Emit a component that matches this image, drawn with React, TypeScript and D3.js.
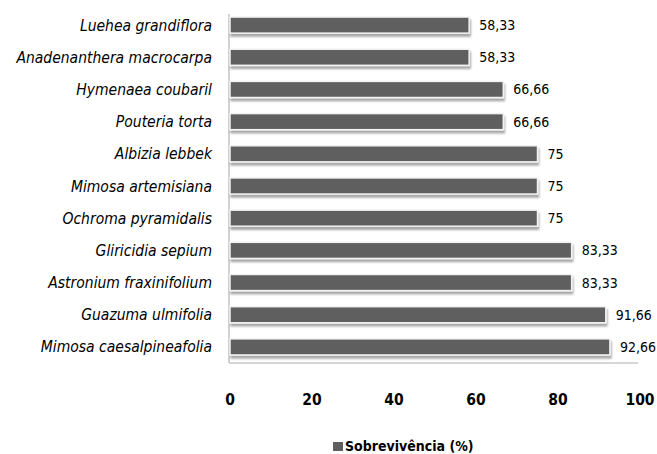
import { useEffect, useRef } from "react";
import * as d3 from "d3";

const species = [
  "Luehea grandiflora",
  "Anadenanthera macrocarpa",
  "Hymenaea coubaril",
  "Pouteria torta",
  "Albizia lebbek",
  "Mimosa artemisiana",
  "Ochroma pyramidalis",
  "Gliricidia sepium",
  "Astronium fraxinifolium",
  "Guazuma ulmifolia",
  "Mimosa caesalpineafolia",
];
const survival = [58.33, 58.33, 66.66, 66.66, 75, 75, 75, 83.33, 83.33, 91.66, 92.66];
const ticks = [0, 20, 40, 60, 80, 100];
const seriesName = "Sobrevivência (%)";

const fmt = (v: number) => (Number.isInteger(v) ? String(v) : v.toFixed(2).replace(".", ","));

export default function App() {
  const ref = useRef<SVGSVGElement | null>(null);
  const width = 657;
  const height = 454;
  const margin = { top: 14, right: 17, bottom: 91, left: 229 };
  const font = "'DejaVu Sans Condensed', 'DejaVu Sans', sans-serif";

  useEffect(() => {
    const svg = d3.select(ref.current);
    svg.selectAll("*").remove();

    const x = d3.scaleLinear().domain([0, 100]).range([margin.left + 1, width - margin.right]);
    const y = d3
      .scaleBand<string>()
      .domain(species)
      .range([9, height - margin.bottom])
      .paddingInner(0.5)
      .paddingOuter(0.25);

    const defs = svg.append("defs");
    const f = defs.append("filter").attr("id", "shadow").attr("x", "-5%").attr("y", "-30%").attr("width", "110%").attr("height", "180%");
    f.append("feGaussianBlur").attr("in", "SourceAlpha").attr("stdDeviation", 1.2);
    f.append("feOffset").attr("dx", 1).attr("dy", 2.5).attr("result", "off");
    f.append("feComponentTransfer").append("feFuncA").attr("type", "linear").attr("slope", 0.35);
    const merge = f.append("feMerge");
    merge.append("feMergeNode");
    merge.append("feMergeNode").attr("in", "SourceGraphic");

    // axes lines
    svg.append("line")
      .attr("x1", margin.left).attr("x2", margin.left)
      .attr("y1", margin.top).attr("y2", height - margin.bottom)
      .attr("stroke", "#a6a6a6").attr("stroke-width", 1);
    svg.append("line")
      .attr("x1", margin.left).attr("x2", x(100) - 2)
      .attr("y1", height - margin.bottom).attr("y2", height - margin.bottom)
      .attr("stroke", "#c8c8c8").attr("stroke-width", 1.5);

    svg.selectAll("rect.bar")
      .data(survival)
      .enter()
      .append("rect")
      .attr("class", "bar")
      .attr("x", x(0))
      .attr("y", (d, i) => y(species[i])!)
      .attr("width", (d) => x(d) - x(0))
      .attr("height", y.bandwidth())
      .attr("fill", "#5f5f5f")
      .attr("stroke", "#f2f2f2")
      .attr("stroke-width", 1.5)
      .attr("filter", "url(#shadow)");

    svg.selectAll("text.val")
      .data(survival)
      .enter()
      .append("text")
      .attr("class", "val")
      .attr("x", (d) => x(d) + 10)
      .attr("y", (d, i) => y(species[i])! + y.bandwidth() / 2 + 5)
      .attr("font-family", font)
      .attr("font-size", "14px")
      .attr("fill", "#000")
      .text((d) => fmt(d));

    svg.selectAll("text.cat")
      .data(species)
      .enter()
      .append("text")
      .attr("class", "cat")
      .attr("x", 212)
      .attr("y", (d) => y(d)! + y.bandwidth() / 2 + 5.5)
      .attr("text-anchor", "end")
      .attr("font-family", font)
      .attr("font-style", "italic")
      .attr("font-size", "15.5px")
      .attr("fill", "#000")
      .text((d) => d);

    svg.selectAll("text.tick")
      .data(ticks)
      .enter()
      .append("text")
      .attr("class", "tick")
      .attr("x", (d) => x(d))
      .attr("y", 405)
      .attr("text-anchor", "middle")
      .attr("font-family", font)
      .attr("font-weight", "bold")
      .attr("font-size", "15.5px")
      .attr("fill", "#000")
      .text((d) => String(d));

    const lg = svg.append("g").attr("transform", "translate(333,442)");
    lg.append("rect").attr("width", 10).attr("height", 9).attr("fill", "#5f5f5f");
    lg.append("text")
      .attr("x", 12)
      .attr("y", 9)
      .attr("font-family", font)
      .attr("font-weight", "bold")
      .attr("font-size", "14px")
      .attr("fill", "#000")
      .text(seriesName);
  }, []);

  return (
    <svg
      ref={ref}
      width={width}
      height={height}
      style={{ position: "absolute", left: 0, top: 0, background: "#fff" }}
    />
  );
}
